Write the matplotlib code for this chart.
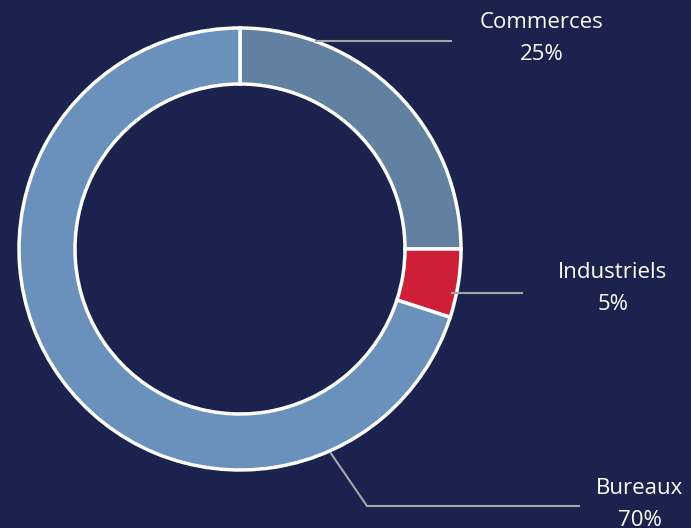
import matplotlib.pyplot as plt

labels = ["Commerces", "Industriels", "Bureaux"]
shares = [25, 5, 70]
colors = ["#62809F", "#CE1F38", "#6A90BC"]

bg = "#1B224E"
W, H = 691, 528

fig = plt.figure(figsize=(W / 100, H / 100), dpi=100, facecolor=bg)
ax = fig.add_axes([0, 0, 1, 1])
ax.set_facecolor(bg)

cx, cy, r = 240, H - 249, 221
ax.pie(shares, colors=colors, startangle=90, counterclock=False,
       center=(cx, cy), radius=r, frame=True,
       wedgeprops=dict(width=56, edgecolor="white", linewidth=2.5))
ax.set_xlim(0, W)
ax.set_ylim(0, H)
ax.axis("off")

# leader lines (pixel layout, y measured from top)
leaders = [
    [(315, 41), (452, 41)],
    [(451, 293), (523, 293)],
    [(330, 452), (367, 506), (580, 506)],
]
for pts in leaders:
    xs = [p[0] for p in pts]
    ys = [H - p[1] for p in pts]
    ax.plot(xs, ys, color="#A6A6A6", lw=1.5, solid_capstyle="butt")

# label anchors (center x, first line y from top)
anchors = [(542, 23), (613, 272), (640, 489)]
for lab, val, (x, y) in zip(labels, shares, anchors):
    ax.text(x, H - y, lab, color="white", fontsize=16, family="Open Sans",
            ha="center", va="center")
    ax.text(x, H - y - 32, f"{val}%", color="white", fontsize=16,
            family="Open Sans", ha="center", va="center")

fig.savefig("out.png", dpi=100, facecolor=bg)
